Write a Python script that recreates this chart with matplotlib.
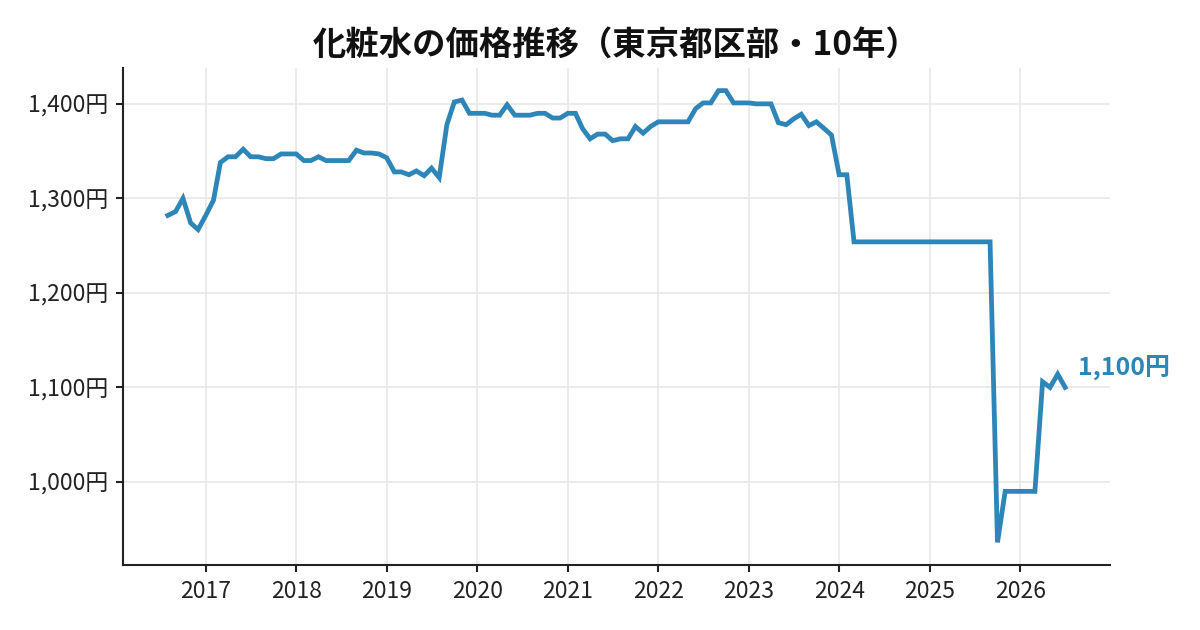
import matplotlib
matplotlib.use("Agg")
import matplotlib.pyplot as plt
import matplotlib.dates as mdates
from matplotlib.ticker import FuncFormatter
import pandas as pd

plt.rcParams['font.family'] = ['Noto Sans CJK JP', 'DejaVu Sans']

# monthly price, 2016-08 .. 2026-07 (yen)
start_month = '2016-08-01'
prices = [
    1282, 1286, 1300, 1274, 1267,                                        # 2016
    1282, 1298, 1338, 1344, 1344, 1352, 1344, 1344, 1342, 1342, 1347, 1347,  # 2017
    1347, 1340, 1340, 1344, 1340, 1340, 1340, 1340, 1351, 1348, 1348, 1347,  # 2018
    1343, 1328, 1328, 1325, 1329, 1324, 1332, 1322, 1378, 1402, 1404, 1390,  # 2019
    1390, 1390, 1388, 1388, 1399, 1388, 1388, 1388, 1390, 1390, 1385, 1385,  # 2020
    1390, 1390, 1374, 1363, 1368, 1368, 1361, 1363, 1363, 1376, 1369, 1376,  # 2021
    1381, 1381, 1381, 1381, 1381, 1395, 1401, 1401, 1414, 1414, 1401, 1401,  # 2022
    1401, 1400, 1400, 1400, 1380, 1378, 1384, 1389, 1377, 1381, 1374, 1367,  # 2023
    1325, 1325, 1254, 1254, 1254, 1254, 1254, 1254, 1254, 1254, 1254, 1254,  # 2024
    1254, 1254, 1254, 1254, 1254, 1254, 1254, 1254, 1254, 936, 990, 990,     # 2025
    990, 990, 990, 1106, 1100, 1114, 1100,                               # 2026
]
dates = pd.date_range(start_month, periods=len(prices), freq='MS')

title = '化粧水の価格推移（東京都区部・10年）'
yticks = [1000, 1100, 1200, 1300, 1400]
line_color = '#2e86b8'

fig = plt.figure(figsize=(8, 4.2), dpi=150)
ax = fig.add_axes([0.1025, 0.1032, 0.8225, 0.7888])

ax.plot(dates, prices, color=line_color, linewidth=2.3, solid_joinstyle='miter')

ax.set_title(title, fontsize=16, fontweight='bold', color='#111111', pad=6)

ax.set_yticks(yticks)
ax.yaxis.set_major_formatter(FuncFormatter(lambda v, p: f'{int(v):,}円'))
ax.xaxis.set_major_locator(mdates.YearLocator())
ax.xaxis.set_major_formatter(mdates.DateFormatter('%Y'))
ax.tick_params(labelsize=11, colors='#222222', width=1)

ax.grid(True, color='#e8e8e8', linewidth=0.8)
ax.set_axisbelow(True)
for side in ['top', 'right']:
    ax.spines[side].set_visible(False)
for side in ['left', 'bottom']:
    ax.spines[side].set_color('#222222')
    ax.spines[side].set_linewidth(1)

ax.annotate(f'{prices[-1]:,}円', xy=(dates[-1], prices[-1]),
            xytext=(6, 3), textcoords='offset points',
            ha='left', va='bottom', fontsize=12, fontweight='bold',
            color=line_color)

fig.savefig('out.png', dpi=150)
